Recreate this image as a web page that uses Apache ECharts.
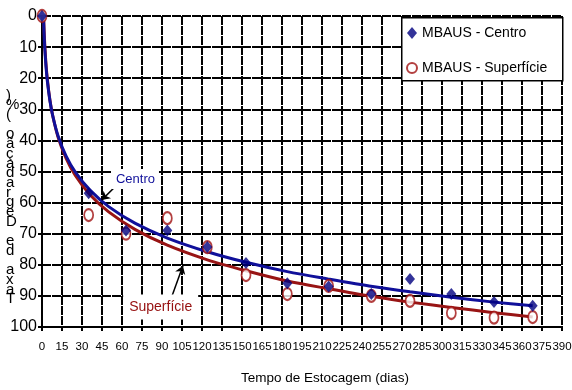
<!DOCTYPE html>
<html><head><meta charset="utf-8">
<script src="https://cdn.jsdelivr.net/npm/echarts@6/dist/echarts.min.js"></script>
<style>html,body{margin:0;padding:0;background:#fff}#c{width:572px;height:390px}</style>
</head><body><div id="c"></div>
<script>
// Measured points
const daysCentro = [0, 35, 63, 94, 124, 153, 184, 215, 247, 276, 307, 339, 368];
const centro = [0, 57, 69, 69, 74.3, 79.4, 85.9, 87, 89.4, 84.6, 89.4, 92, 93.2];
const daysSuperficie = [0, 35, 63, 94, 124, 153, 184, 215, 247, 276, 307, 339, 368];
const superficie = [0, 64, 70, 65, 74.3, 83.3, 89.4, 86.8, 90, 91.6, 95.5, 97, 96.8];
// Trend curves
const trendCentroX = [1.1, 1.5, 2, 3, 4, 6, 8, 12, 18, 25, 36, 50, 70, 94, 124, 153, 184, 215, 248, 276, 307, 339, 368];
const trendCentroY = [0, 5.2, 9.8, 16.3, 20.9, 27.4, 32, 38.5, 45, 50.2, 56, 61.3, 66.7, 71.4, 75.8, 79.2, 82.2, 84.6, 87, 88.7, 90.4, 92, 93.2];
const trendSupX = [1.2, 1.5, 2, 3, 4, 6, 8, 12, 18, 25, 36, 50, 70, 94, 124, 153, 184, 215, 248, 276, 307, 339, 368];
const trendSupY = [0, 3.8, 8.6, 15.5, 20.3, 27.2, 32, 38.9, 45.7, 51.3, 57.5, 63, 68.7, 73.7, 78.4, 81.9, 85.2, 87.7, 90.2, 92, 93.7, 95.4, 96.8];
const xTicks = {min: 0, max: 390, interval: 15};
const yTicks = {min: 0, max: 100, interval: 10};
const yTitle = 'Taxa de Degradação (%)';
const xTitle = 'Tempo de Estocagem (dias)';
const nameCentro = 'MBAUS - Centro';
const nameSup = 'MBAUS - Superfície';

const pair = (xs, ys) => xs.map((x, i) => [x, ys[i]]);
const FONT = "'Liberation Sans', Arial, sans-serif";
const NARROW = "'Liberation Sans Narrow', 'Liberation Sans', Arial, sans-serif";
const BLUE = '#10109a', RED = '#981414', NAVY = '#000080', CRED = '#a01010';

const chart = echarts.init(document.getElementById('c'));
const gridLine = {show: true, lineStyle: {color: '#000', width: 2, type: [9, 1]}};
chart.setOption({
  animation: false,
  backgroundColor: '#fff',
  grid: {left: 42, right: 10, top: 16, bottom: 63, containLabel: false, outerBoundsMode: 'none'},
  xAxis: {
    type: 'value', min: xTicks.min, max: xTicks.max, interval: xTicks.interval,
    name: xTitle, nameLocation: 'middle', nameGap: 44,
    nameTextStyle: {fontFamily: FONT, fontSize: 13.5, color: '#000', padding: [0, 0, 0, 46]},
    axisLine: {show: true, onZero: false, lineStyle: {color: '#000', width: 2}},
    axisTick: {show: true, length: 4, lineStyle: {color: '#000', width: 2}},
    axisLabel: {fontFamily: FONT, fontSize: 11.5, color: '#000', margin: 14, interval: 0, hideOverlap: false},
    splitLine: gridLine
  },
  yAxis: {
    type: 'value', inverse: true, min: yTicks.min, max: yTicks.max, interval: yTicks.interval,
    axisLine: {show: true, onZero: false, lineStyle: {color: '#000', width: 2}},
    axisTick: {show: true, length: 4, lineStyle: {color: '#000', width: 2}},
    axisLabel: {fontFamily: FONT, fontSize: 16, color: '#000', margin: 5},
    splitLine: gridLine
  },
  legend: {
    data: [nameCentro, nameSup], orient: 'vertical', left: 406, top: 26, z: 20,
    itemWidth: 10, itemHeight: 12, itemGap: 21, padding: 0,
    textStyle: {fontFamily: FONT, fontSize: 14, color: '#000', lineHeight: 14}
  },
  graphic: [
    {type: 'rect', left: 401, top: 17, z: 6, shape: {width: 161, height: 63},
     style: {fill: '#fff', stroke: '#000', lineWidth: 1.5}},
    {type: 'text', left: 6, top: 88, z: 100,
     style: {text: yTitle.split('').reverse().join('\n'), fontFamily: FONT, fontSize: 15,
             lineHeight: 9.7, fill: '#000', align: 'center'}}
  ],
  series: [
    {name: 'trendSup', type: 'line', data: pair(trendSupX, trendSupY), smooth: 0.3,
     showSymbol: false, lineStyle: {color: RED, width: 3}, z: 3, silent: true,
     markLine: {silent: true, symbol: ['none', 'arrow'], symbolSize: 8, label: {show: false},
       lineStyle: {color: '#000', width: 1.5, type: 'solid'},
       data: [[{coord: [97.5, 90]}, {coord: [105.7, 80.3]}]]},
     markPoint: {symbol: 'rect', symbolSize: 1, itemStyle: {color: 'rgba(0,0,0,0)'},
       data: [{coord: [89, 93.6], label: {show: true, position: 'inside', formatter: 'Superfície',
         fontFamily: NARROW, fontSize: 14, color: '#960f0f', backgroundColor: '#fff',
         padding: [6, 6, 5, 6]}}]}},
    {name: 'trendCentro', type: 'line', data: pair(trendCentroX, trendCentroY), smooth: 0.3,
     showSymbol: false, lineStyle: {color: BLUE, width: 3}, z: 3, silent: true,
     markLine: {silent: true, symbol: ['none', 'arrow'], symbolSize: 8, label: {show: false},
       lineStyle: {color: '#000', width: 1.5, type: 'solid'},
       data: [[{coord: [54.8, 54.9]}, {coord: [44.7, 59.2]}]]},
     markPoint: {symbol: 'rect', symbolSize: 1, itemStyle: {color: 'rgba(0,0,0,0)'},
       data: [{coord: [70.1, 52.4], label: {show: true, position: 'inside', formatter: 'Centro',
         fontFamily: NARROW, fontSize: 13, color: '#10109a', backgroundColor: '#fff',
         padding: [4, 4, 3, 4]}}]}},
    {name: nameSup, type: 'scatter', data: pair(daysSuperficie, superficie), symbol: 'circle',
     symbolSize: [9, 12], z: 4, itemStyle: {color: '#fff', borderColor: CRED, borderWidth: 2}},
    {name: nameCentro, type: 'scatter', data: pair(daysCentro, centro), symbol: 'diamond',
     symbolSize: [10, 12], z: 5, itemStyle: {color: NAVY}}
  ]
});
</script>
</body></html>
